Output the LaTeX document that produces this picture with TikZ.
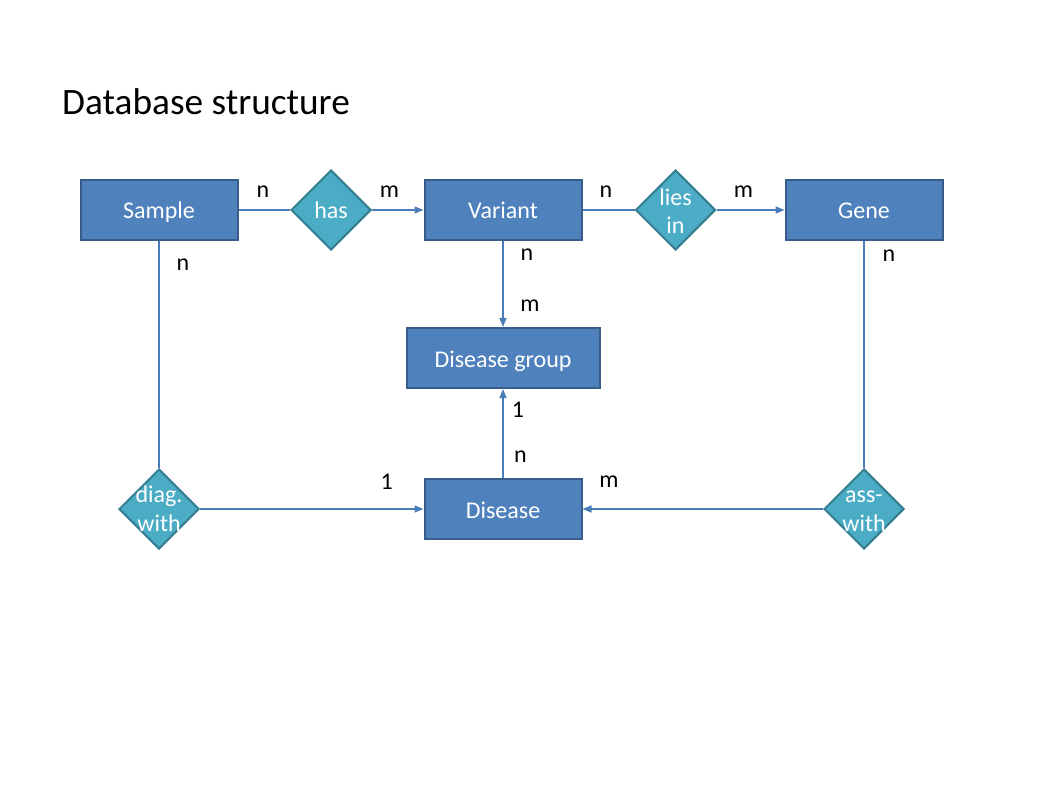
\documentclass[tikz,border=0pt]{standalone}
\usepackage{fontspec}
\setmainfont{Carlito}
\usetikzlibrary{shapes.geometric,arrows.meta}
\definecolor{boxfill}{HTML}{4F81BD}
\definecolor{boxline}{HTML}{385D8A}
\definecolor{diafill}{HTML}{4BACC6}
\definecolor{dialine}{HTML}{357D91}
\definecolor{conn}{HTML}{4A7EBB}
\tikzset{
  entity/.style={rectangle, fill=boxfill, draw=boxline, line width=2pt, text=white,
    minimum width=157pt, minimum height=60pt, inner sep=0pt, text height=18pt, text depth=0pt,
    font=\fontsize{24}{26}\selectfont},
  relation/.style={diamond, fill=diafill, draw=dialine, line width=2pt,
    minimum width=80pt, minimum height=80pt, inner sep=0pt},
  reltext/.style={text=white, align=center, inner sep=0pt, anchor=base, font=\fontsize{24}{28.5}\selectfont},
  card/.style={inner sep=0pt, font=\fontsize{24}{26}\selectfont},
  link/.style={draw=conn, line width=1.5pt},
  arr/.style={link, -{Triangle[length=9pt,width=7pt]}},
}
\begin{document}
\begin{tikzpicture}[x=1pt,y=-1pt]
\useasboundingbox (0,0) rectangle (1058,794);
\node[anchor=base west, inner sep=0pt, font=\fontsize{37.3}{40}\selectfont] (title) at (62,115) {Database structure};

\node[entity] (sample) at (159,210) {Sample};
\node[entity] (variant) at (503,210) {Variant};
\node[entity] (gene) at (864,210) {Gene};
\node[entity, minimum width=193pt] (dgroup) at (503,358) {Disease group};
\node[entity] (disease) at (503,509) {Disease};

\node[relation] (has) at (331,210) {};
\node[reltext] (hast) at ([yshift=-9]has.center) {has};
\node[relation] (lies) at (675.5,210) {};
\node[reltext] (liest) at ([yshift=-24]lies.center) {lies\\in};
\node[relation] (diag) at (159,509) {};
\node[reltext] (diagt) at ([yshift=-22]diag.center) {diag.\\with};
\node[relation] (ass) at (864,509) {};
\node[reltext] (asst) at ([yshift=-22]ass.center) {ass-\\with};

\draw[link] (sample.east) -- (has.west);
\draw[arr] (has.east) -- (variant.west);
\draw[link] (variant.east) -- (lies.west);
\draw[arr] (lies.east) -- (gene.west);
\draw[arr] (variant.south) -- (dgroup.north);
\draw[arr] (disease.north) -- (dgroup.south);
\draw[link] (sample.south) -- (diag.north);
\draw[arr] (diag.east) -- (disease.west);
\draw[link] (gene.south) -- (ass.north);
\draw[arr] (ass.west) -- (disease.east);

\node[card] (c1) at (263,192) {n};
\node[card] (c2) at (389.5,192) {m};
\node[card] (c3) at (183,264.5) {n};
\node[card] (c4) at (606,192) {n};
\node[card] (c5) at (743.5,192) {m};
\node[card] (c6) at (889,255.5) {n};
\node[card] (c7) at (527,255) {n};
\node[card] (c8) at (530,306) {m};
\node[card] (c9) at (518,410) {1};
\node[card] (c10) at (520.5,456.5) {n};
\node[card] (c11) at (386.7,481.5) {1};
\node[card] (c12) at (609,482) {m};
\end{tikzpicture}
\end{document}
